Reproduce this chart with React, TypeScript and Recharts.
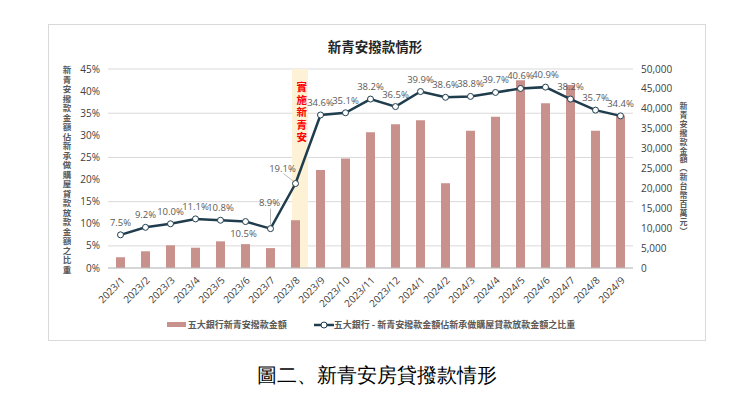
import React from 'react';
import {
  ComposedChart, Bar, Line, XAxis, YAxis, CartesianGrid, ReferenceArea,
} from 'recharts';

const months = [
  '2023/1', '2023/2', '2023/3', '2023/4', '2023/5', '2023/6', '2023/7',
  '2023/8', '2023/9', '2023/10', '2023/11', '2023/12', '2024/1', '2024/2',
  '2024/3', '2024/4', '2024/5', '2024/6', '2024/7', '2024/8', '2024/9',
];

// 五大銀行新青安撥款金額 (新台幣百萬元)
const amounts = [
  2700, 4200, 5700, 5100, 6700, 6000, 5000, 12000, 24600, 27500, 34100,
  36100, 37100, 21300, 34500, 38000, 47200, 41400, 46000, 34500, 38300,
];

// 佔新承做購屋貸款放款金額之比重 (%)
const ratios = [
  7.5, 9.2, 10.0, 11.1, 10.8, 10.5, 8.9, 19.1, 34.6, 35.1, 38.2,
  36.5, 39.9, 38.6, 38.8, 39.7, 40.6, 40.9, 38.2, 35.7, 34.4,
];

const leftTicks = [0, 5, 10, 15, 20, 25, 30, 35, 40, 45];
const rightTicks = [0, 5000, 10000, 15000, 20000, 25000, 30000, 35000, 40000, 45000, 50000];

const startMonth = '2023/8';
const startLabel = '實施新青安';

const data = months.map((m, i) => ({ month: m, amount: amounts[i], ratio: ratios[i] }));

const BAR = '#c8918c';
const LINE = '#1f3d4d';
const TXT = '#595959';
const FONT = "'Open Sans', 'Noto Sans CJK TC', sans-serif";
const CJK = "'Noto Sans CJK TC', sans-serif";

const MonthTick = ({ x, y, payload }: any) => (
  <g transform={`translate(${x},${y}) rotate(-45)`}>
    <text x={0} y={0} dy={7} textAnchor="end" fill="#404040" fontSize={10} fontFamily={FONT}>
      {payload.value}
    </text>
  </g>
);

const RatioLabel = (props: any) => {
  const { x, y, value, index } = props;
  const txt = `${Number(value).toFixed(1)}%`;
  const common = { fill: TXT, fontSize: 9.5, fontFamily: FONT, textAnchor: 'middle' as const };
  if (index === 5) {
    return <text x={x - 2} y={y + 15} {...common}>{txt}</text>;
  }
  if (index === 6) {
    return (
      <g>
        <line x1={x} y1={y - 20} x2={x} y2={y - 4} stroke="#a6a6a6" strokeWidth={0.8} />
        <text x={x - 1} y={y - 23} {...common}>{txt}</text>
      </g>
    );
  }
  if (index === 7) {
    return (
      <g>
        <line x1={x - 12} y1={y - 10} x2={x - 3} y2={y - 3} stroke="#a6a6a6" strokeWidth={0.8} />
        <text x={x - 13} y={y - 12} {...common}>{txt}</text>
      </g>
    );
  }
  return <text x={x} y={y - 9} {...common}>{txt}</text>;
};

const BandShape = (props: any) => {
  const { x, y, width, height } = props;
  return <rect x={x + width * 0.36} y={y} width={width * 0.64} height={height} fill="#fdf1d6" />;
};

const BandLabel = (props: any) => {
  const { viewBox } = props;
  const cx = viewBox.x + viewBox.width * 0.75;
  return (
    <text
      x={cx}
      y={viewBox.y + 13}
      fill="#ff0000"
      fontSize={10.5}
      fontWeight={700}
      fontFamily={CJK}
      style={{ writingMode: 'vertical-rl', letterSpacing: 2 }}
    >
      {startLabel}
    </text>
  );
};

const App = () => {
  return (
    <div style={{ position: 'absolute', left: 0, top: 0, width: 750, height: 396, background: '#fff' }}>
      <div style={{ position: 'absolute', left: 48, top: 24, width: 656, height: 315, border: '1px solid #d9d9d9' }} />
      <div style={{ position: 'absolute', left: 0, top: 36, width: 750, textAlign: 'center', fontFamily: CJK, fontWeight: 700, fontSize: 13.5, color: '#262626' }}>
        新青安撥款情形
      </div>
      <div style={{ position: 'absolute', left: 61, top: 66, writingMode: 'vertical-rl', textOrientation: 'mixed', fontFamily: CJK, fontWeight: 700, fontSize: 8.5, letterSpacing: 1, lineHeight: '12px', color: TXT }}>
        新青安撥款金額佔新承做購屋貸款放款金額之比重
      </div>
      <div style={{ position: 'absolute', left: 677, top: 102, writingMode: 'vertical-rl', textOrientation: 'mixed', fontFamily: CJK, fontWeight: 700, fontSize: 8, letterSpacing: 0.9, lineHeight: '12px', color: TXT }}>
        新青安撥款金額（新台幣百萬元）
      </div>
      <ComposedChart
        width={750}
        height={396}
        data={data}
        margin={{ top: 69, right: 57, bottom: 78, left: 48 }}
        style={{ position: 'absolute', left: 0, top: 0 }}
      >
        <CartesianGrid yAxisId="left" vertical={false} stroke="#d9d9d9" />
        <ReferenceArea
          yAxisId="left"
          x1={startMonth}
          x2={startMonth}
          shape={BandShape}
          label={BandLabel}
          ifOverflow="visible"
        />
        <XAxis
          dataKey="month"
          interval={0}
          height={50}
          tick={MonthTick}
          tickLine={false}
          axisLine={{ stroke: '#bfbfbf' }}
        />
        <YAxis
          yAxisId="left"
          orientation="left"
          width={60}
          domain={[0, 45]}
          ticks={leftTicks}
          tickFormatter={(v: number) => `${v}%`}
          axisLine={false}
          tickLine={false}
          tick={{ fill: '#404040', fontSize: 10, fontFamily: FONT }}
        />
        <YAxis
          yAxisId="right"
          orientation="right"
          width={60}
          domain={[0, 50000]}
          ticks={rightTicks}
          tickFormatter={(v: number) => v.toLocaleString('en-US')}
          axisLine={false}
          tickLine={false}
          tick={{ fill: '#404040', fontSize: 10, fontFamily: FONT, textAnchor: 'start' }}
        />
        <Bar yAxisId="right" dataKey="amount" fill={BAR} barSize={9} isAnimationActive={false} />
        <Line
          yAxisId="left"
          dataKey="ratio"
          stroke={LINE}
          strokeWidth={2.5}
          dot={{ r: 3, fill: '#fff', stroke: LINE, strokeWidth: 1 }}
          label={RatioLabel}
          isAnimationActive={false}
        />
      </ComposedChart>
      <div style={{ position: 'absolute', left: 0, top: 318, width: 750, display: 'flex', justifyContent: 'center', alignItems: 'center', fontFamily: CJK, fontSize: 9, fontWeight: 700, color: TXT }}>
        <span style={{ display: 'inline-block', width: 19, height: 5, background: BAR, marginRight: 2, marginLeft: -8 }} />
        <span>五大銀行新青安撥款金額</span>
        <svg width={20} height={8} style={{ marginLeft: 27 }}>
          <line x1={0} y1={4} x2={20} y2={4} stroke={LINE} strokeWidth={2.5} />
          <circle cx={10} cy={4} r={3} fill="#fff" stroke={LINE} strokeWidth={1} />
        </svg>
        <span>五大銀行 - 新青安撥款金額佔新承做購屋貸款放款金額之比重</span>
      </div>
      <div style={{ position: 'absolute', left: 0, top: 362, width: 754, textAlign: 'center', fontFamily: 'serif', fontSize: 20, color: '#000' }}>
        圖二、新青安房貸撥款情形
      </div>
    </div>
  );
};

export default App;
